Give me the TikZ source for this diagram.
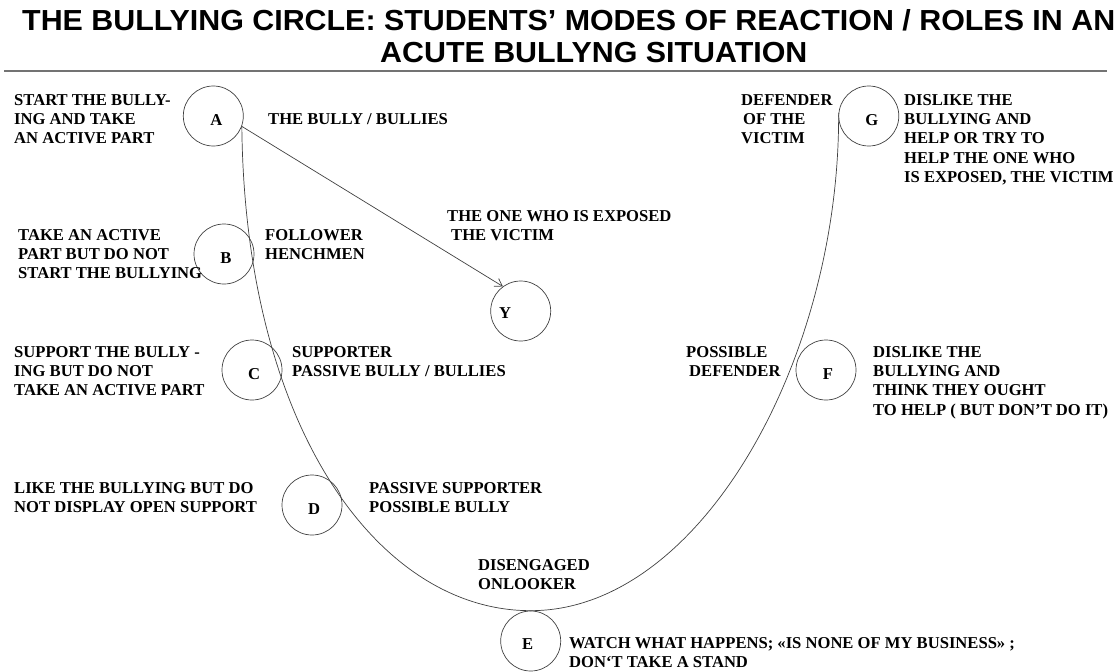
\documentclass[tikz,border=0pt]{standalone}
\usepackage{fontspec}
\setmainfont{Liberation Serif}
\newfontfamily\titlefont{Liberation Sans}
\usetikzlibrary{arrows.meta}
\begin{document}
\begin{tikzpicture}[x=1pt,y=-1pt,
  circ/.style={draw=black!75, line width=0.7pt, circle, minimum size=60pt, inner sep=0pt,
    text height=19.6pt, text depth=0pt, font=\bfseries\fontsize{16.6}{19}\selectfont},
  lab/.style={anchor=base west, align=left, inner sep=0pt, font=\bfseries\fontsize{16.6}{19.2}\selectfont},
  ttl/.style={anchor=base west, inner sep=0pt, font=\titlefont\bfseries\fontsize{29}{29}\selectfont},
  conn/.style={draw=black!75, line width=0.7pt}]
\useasboundingbox (0,0) rectangle (1117,672);
% title
\node[ttl] (t1) at (22,30.5) {\scalebox{1.048}[1]{THE BULLYING CIRCLE: STUDENTS’ MODES OF REACTION / ROLES IN AN}};
\node[ttl] (t2) at (380,62.5) {\scalebox{1.048}[1]{ACUTE BULLYNG SITUATION}};
\draw[black!55, line width=2pt] (4,70.7) -- (1107,70.7);
% circles
\node[circ] (A) at (213.3,116) {\hspace{6pt}A};
\node[circ] (B) at (224,254) {\hspace{4pt}B};
\node[circ] (C) at (252,370) {\hspace{4pt}C};
\node[circ] (D) at (312,505) {\hspace{4pt}D};
\node[circ, text height=16pt] (E) at (530.7,641) {\hspace*{-6pt}E};
\node[circ] (F) at (826,370) {\hspace{4pt}F};
\node[circ] (G) at (868.8,116) {\hspace{6pt}G};
\node[circ] (Y) at (520.7,311) {};
\node[anchor=center, inner sep=0pt, font=\bfseries\fontsize{16.6}{19}\selectfont] (Yl) at (505,313) {Y};
% connectors
\draw[conn] (A.-20) .. controls (245,430) and (380,611) .. (E.north)
  .. controls (700,611) and (840,360) .. (G.174);
\draw[conn, -{Straight Barb[length=7pt,width=9pt]}] (A.-20) -- (Y.126);
% labels (anchor = baseline of last line)
\node[lab] (la) at (14,143.9) {START THE BULLY-\\ING AND TAKE\\AN ACTIVE PART};
\node[lab] (ra) at (268,124.5) {THE BULLY / BULLIES};
\node[lab] (lg) at (741,143.9) {DEFENDER\\\hspace*{2pt}OF THE\\VICTIM};
\node[lab] (rg) at (904,182.3) {DISLIKE THE\\BULLYING AND\\HELP OR TRY TO\\HELP THE ONE WHO\\IS EXPOSED, THE VICTIM};
\node[lab] (ly) at (447,240.7) {THE ONE WHO IS EXPOSED\\\hspace*{4pt}THE VICTIM};
\node[lab] (lb) at (18,278.9) {TAKE AN ACTIVE\\PART BUT DO NOT\\START THE BULLYING};
\node[lab] (rb) at (265,259.7) {FOLLOWER\\HENCHMEN};
\node[lab] (lc) at (14,395.9) {SUPPORT THE BULLY -\\ING BUT DO NOT\\TAKE AN ACTIVE PART};
\node[lab] (rc) at (292,376.7) {SUPPORTER\\PASSIVE BULLY / BULLIES};
\node[lab] (lf) at (686,376.7) {POSSIBLE\\\hspace*{3pt}DEFENDER};
\node[lab] (rf) at (873,415.1) {DISLIKE THE\\BULLYING AND\\THINK THEY OUGHT\\TO HELP ( BUT DON’T DO IT)};
\node[lab] (ld) at (14,512.7) {LIKE THE BULLYING BUT DO\\NOT DISPLAY OPEN SUPPORT};
\node[lab] (rd) at (369,512.7) {PASSIVE SUPPORTER\\POSSIBLE BULLY};
\node[lab] (le) at (478,589.7) {DISENGAGED\\ONLOOKER};
\node[lab] (re) at (569,667.7) {WATCH WHAT HAPPENS; «IS NONE OF MY BUSINESS» ;\\DON‘T TAKE A STAND};
\end{tikzpicture}
\end{document}
